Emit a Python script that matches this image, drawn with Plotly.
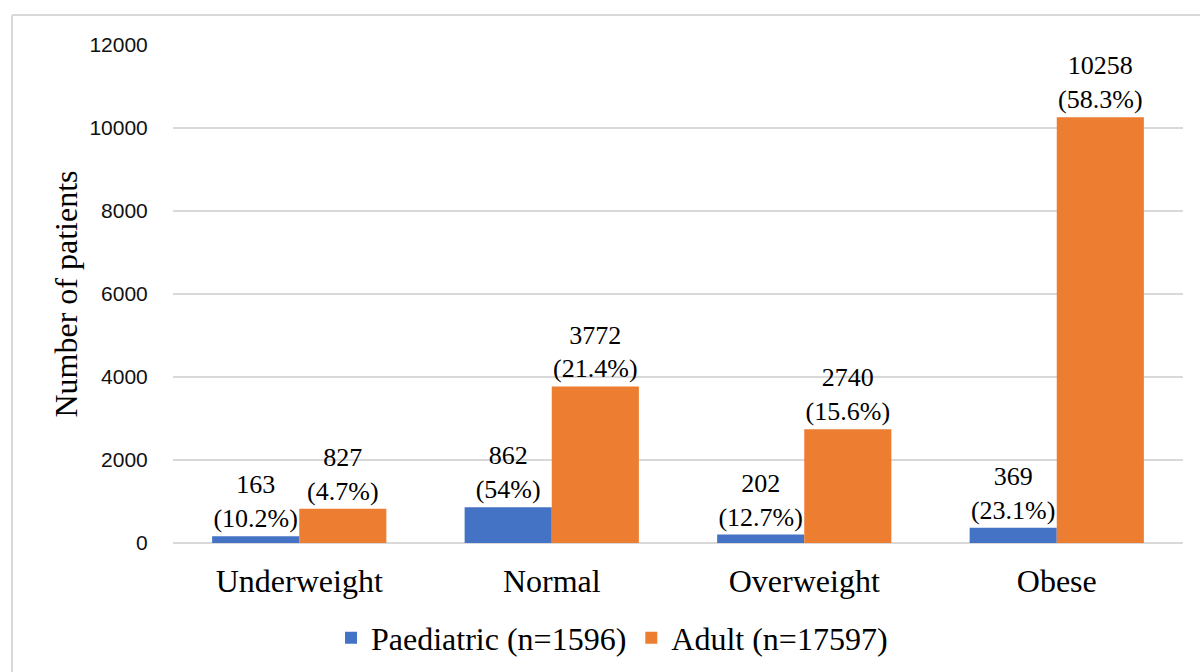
import plotly.graph_objects as go

categories = ["Underweight", "Normal", "Overweight", "Obese"]
paediatric = [163, 862, 202, 369]
adult = [827, 3772, 2740, 10258]
paediatric_pct = ["10.2%", "54%", "12.7%", "23.1%"]
adult_pct = ["4.7%", "21.4%", "15.6%", "58.3%"]
y_ticks = [0, 2000, 4000, 6000, 8000, 10000, 12000]

SERIF = "Liberation Serif, Times New Roman, serif"
SANS = "Liberation Sans, Arial, sans-serif"

W, H = 1200, 672
L, R, T, B = 173, 17, 45, 129
pw, ph = W - L - R, H - T - B

def px_x(x):
    return (x - L) / pw

def px_y(y):
    return (H - B - y) / ph

fig = go.Figure()
fig.add_trace(go.Bar(
    name="Paediatric (n=1596)", x=categories, y=paediatric,
    marker=dict(color="#4472C4", line=dict(width=0)),
    text=[f"{v}<br>({p})" for v, p in zip(paediatric, paediatric_pct)],
    textposition="outside", textangle=0, constraintext="none",
    textfont=dict(family=SERIF, size=26, color="#000000"),
    cliponaxis=False,
))
fig.add_trace(go.Bar(
    name="Adult (n=17597)", x=categories, y=adult,
    marker=dict(color="#ED7D31", line=dict(width=0)),
    text=[f"{v}<br>({p})" for v, p in zip(adult, adult_pct)],
    textposition="outside", textangle=0, constraintext="none",
    textfont=dict(family=SERIF, size=26, color="#000000"),
    cliponaxis=False,
))

fig.update_layout(
    width=W, height=H,
    margin=dict(l=L, r=R, t=T, b=B, autoexpand=False),
    paper_bgcolor="white", plot_bgcolor="white",
    barmode="group", bargap=0.31, bargroupgap=0,
    xaxis=dict(
        showgrid=False, showline=False, zeroline=False,
        ticks="outside", ticklen=10, tickcolor="rgba(0,0,0,0)",
        tickfont=dict(family=SERIF, size=32, color="#000000"),
    ),
    yaxis=dict(
        range=[0, 12000], tickvals=y_ticks,
        ticktext=[str(v) for v in y_ticks],
        showgrid=True, gridcolor="#D9D9D9", gridwidth=2,
        zeroline=True, zerolinecolor="#D9D9D9", zerolinewidth=2,
        showline=False,
        ticks="outside", ticklen=20, tickcolor="rgba(0,0,0,0)",
        tickfont=dict(family=SANS, size=21, color="#111111"),
        title=dict(text="Number of patients", standoff=2,
                   font=dict(family=SERIF, size=32, color="#000000")),
    ),
    legend=dict(
        orientation="h", x=px_x(612), xanchor="center",
        y=px_y(638), yanchor="middle",
        font=dict(family=SERIF, size=32, color="#000000"),
        bgcolor="rgba(0,0,0,0)", itemsizing="constant",
    ),
    showlegend=True,
)

# outer chart frame (light grey border, continues past right and bottom edges)
fig.add_shape(type="line", xref="paper", yref="paper",
              x0=px_x(12), x1=px_x(12), y0=px_y(15), y1=px_y(700),
              line=dict(color="#D9D9D9", width=2))
fig.add_shape(type="line", xref="paper", yref="paper",
              x0=px_x(12), x1=px_x(1220), y0=px_y(15), y1=px_y(15),
              line=dict(color="#D9D9D9", width=2))

fig.write_html(
    "out.html",
    config={"displayModeBar": False},
    post_script="document.body.style.margin='0';document.body.style.overflow='hidden';",
)
